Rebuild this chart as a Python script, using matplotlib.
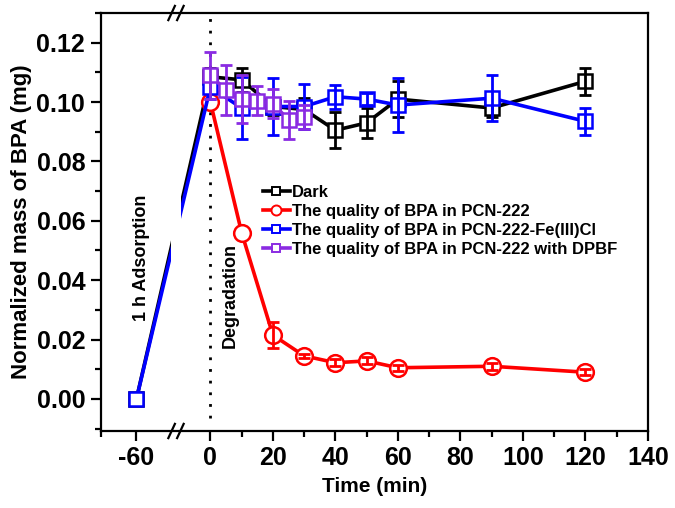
#!/usr/bin/env python3
"""BPA mass vs time with a broken x axis (1 h adsorption, then degradation)."""

import numpy as np
import matplotlib
matplotlib.use("Agg")
import matplotlib.pyplot as plt
from matplotlib.lines import Line2D
from matplotlib.ticker import FixedLocator, MultipleLocator, FormatStrFormatter

plt.rcParams["font.family"] = ["Liberation Sans", "DejaVu Sans"]
plt.rcParams["font.weight"] = "bold"

nan = np.nan

# Data; nan = no visible error bar
t_dark = [-60, 0, 10, 20, 30, 40, 50, 60, 90, 120]
m_dark = [0.0, 0.1085, 0.1075, 0.0985, 0.0975, 0.0905, 0.093, 0.101, 0.098, 0.107]
e_dark = [nan, 0.003, 0.004, 0.003, 0.004, 0.006, 0.005, 0.006, 0.003, 0.0045]

t_pcn = [0, 10, 20, 30, 40, 50, 60, 90, 120]
m_pcn = [0.100, 0.056, 0.0215, 0.0145, 0.0122, 0.0128, 0.0105, 0.011, 0.009]
e_pcn = [nan, nan, 0.0045, 0.0008, 0.0012, 0.0012, 0.001, 0.0012, 0.001]

t_fe = [-60, 0, 10, 20, 30, 40, 50, 60, 90, 120]
m_fe = [0.0, 0.105, 0.098, 0.0985, 0.0985, 0.1018, 0.101, 0.099, 0.1013, 0.0935]
e_fe = [nan, 0.004, 0.0105, 0.0095, 0.0075, 0.004, 0.002, 0.009, 0.0078, 0.0045]

t_dpbf = [0, 5, 10, 15, 20, 25, 30]
m_dpbf = [0.109, 0.104, 0.101, 0.1005, 0.0995, 0.094, 0.095]
e_dpbf = [0.008, 0.0085, 0.008, 0.005, 0.005, 0.0065, 0.004]

labels = [
    "Dark",
    "The quality of BPA in PCN-222",
    "The quality of BPA in PCN-222-Fe(III)Cl",
    "The quality of BPA in PCN-222 with DPBF",
]
colors = ["black", "#ff0000", "#0000ff", "#8a2be2"]

# Broken axis: the interval (brk_l, brk_r) is cut out, left part a bit stretched
brk_l, brk_r, k = -49.0, -11.0, 1.15


def fwd(x):
    x = np.asarray(x, dtype=float)
    return np.where(x >= brk_r, x, np.where(x <= brk_l, brk_r + (x - brk_l) * k, brk_r))


def inv(y):
    y = np.asarray(y, dtype=float)
    return np.where(y >= brk_r, y, brk_l + (y - brk_r) / k)


fig = plt.figure(figsize=(6.75, 5.08), dpi=100)
ax = fig.add_axes([0.1489, 0.1516, 0.8111, 0.8228])
ax.set_xscale("function", functions=(fwd, inv))

series = [
    (t_dark, m_dark, e_dark, "s", 10),
    (t_pcn, m_pcn, e_pcn, "o", 12),
    (t_fe, m_fe, e_fe, "s", 10),
    (t_dpbf, m_dpbf, e_dpbf, "s", 10),
]
handles = []
for i, ((t, m, e, mk, ms), c, lab) in enumerate(zip(series, colors, labels)):
    z = 3 + i * 0.2
    ax.plot(t, m, color=c, lw=2.6, marker=mk, ms=ms, mfc="white", mec=c, mew=1.8, zorder=z)
    # error bars sit on top of the hollow markers
    ax.errorbar(t, m, yerr=e, fmt="none", ecolor=c, elinewidth=2.0,
                capsize=4, capthick=2.0, zorder=z + 0.1)
    handles.append(Line2D([], [], color=c, lw=2.6, marker=mk, ms=ms * 0.6,
                          mfc="white", mec=c, mew=1.4, label=lab))

# dotted line marking start of degradation
ax.axvline(0, ymin=0.03, ymax=1, color="black", ls=(0, (1, 3.2)), lw=2, zorder=1)

ax.set_xlim(-70, 140)
ax.set_ylim(-0.0108, 0.130)

# white gap across the break
ax.axvspan(-50.3, -9.5, color="white", zorder=4.5, lw=0)

ax.xaxis.set_major_locator(FixedLocator([-60, 0, 20, 40, 60, 80, 100, 120, 140]))
ax.xaxis.set_minor_locator(FixedLocator([-70, 10, 30, 50, 70, 90, 110, 130]))
ax.xaxis.set_major_formatter(FormatStrFormatter("%d"))
ax.yaxis.set_major_locator(MultipleLocator(0.02))
ax.yaxis.set_minor_locator(MultipleLocator(0.01))
ax.yaxis.set_major_formatter(FormatStrFormatter("%.2f"))

ax.tick_params(which="both", direction="out", width=1.6, labelsize=18, top=False, right=False)
ax.tick_params(which="major", length=7, pad=4)
ax.tick_params(which="minor", length=4.5)
for sp in ax.spines.values():
    sp.set_linewidth(1.6)
    sp.set_zorder(5)

# break marks on the bottom and top spines
fx = ax.transAxes.inverted().transform(ax.transData.transform((brk_r, 0)))[0]
for yb in (0, 1):
    for dx in (-0.008, 0.008):
        ax.plot([fx + dx - 0.006, fx + dx + 0.006], [yb - 0.017, yb + 0.017],
                color="black", lw=1.6, transform=ax.transAxes, clip_on=False, zorder=6)

ax.set_xlabel("Time (min)", fontsize=15, fontweight="bold", labelpad=5)
ax.set_ylabel("Normalized mass of BPA (mg)", fontsize=16, fontweight="bold", labelpad=3)

ax.text(-58.5, 0.0475, "1 h Adsorption", rotation=90, fontsize=13, fontweight="bold",
        ha="center", va="center")
ax.text(6.4, 0.0347, "Degradation", rotation=90, fontsize=13, fontweight="bold",
        ha="center", va="center")

ax.legend(handles=handles, loc="upper left", bbox_to_anchor=(263 / 675, 1 - 185 / 508),
          bbox_transform=fig.transFigure, frameon=False, borderaxespad=0, borderpad=0,
          handlelength=1.6, handletextpad=0.15, labelspacing=0.24,
          prop={"weight": "bold", "size": 12})

plt.savefig("out.png", dpi=100, facecolor="white")
plt.close()
